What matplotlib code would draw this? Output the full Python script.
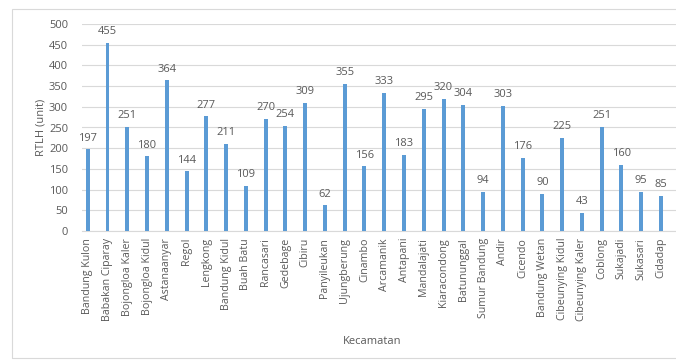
import matplotlib
matplotlib.use("Agg")
import matplotlib.pyplot as plt
from matplotlib.patches import Rectangle

# data RTLH per kecamatan
kecamatan = ["Bandung Kulon", "Babakan Ciparay", "Bojongloa Kaler", "Bojongloa Kidul",
             "Astanaanyar", "Regol", "Lengkong", "Bandung Kidul", "Buah Batu", "Rancasari",
             "Gedebage", "Cibiru", "Panyileukan", "Ujungberung", "Cinambo", "Arcamanik",
             "Antapani", "Mandalajati", "Kiaracondong", "Batununggal", "Sumur Bandung",
             "Andir", "Cicendo", "Bandung Wetan", "Cibeunying Kidul", "Cibeunying Kaler",
             "Coblong", "Sukajadi", "Sukasari", "Cidadap"]
rtlh = [197, 455, 251, 180, 364, 144, 277, 211, 109, 270,
        254, 309, 62, 355, 156, 333, 183, 295, 320, 304,
        94, 303, 176, 90, 225, 43, 251, 160, 95, 85]
yticks = [0, 50, 100, 150, 200, 250, 300, 350, 400, 450, 500]

plt.rcParams['font.family'] = ['Open Sans', 'DejaVu Sans']
text_col = '#595959'
bar_col = '#5B9BD5'

fig = plt.figure(figsize=(6.76, 3.61), dpi=100)
# chart frame
fig.patches.append(Rectangle((12 / 676, 3 / 361), 1.0, 349 / 361, transform=fig.transFigure,
                             fill=False, edgecolor='#D9D9D9', linewidth=0.8))

ax = fig.add_axes((82 / 676, 1 - 231 / 361, 1 - 82 / 676, (231 - 24) / 361))
x = list(range(len(kecamatan)))
bars = ax.bar(x, rtlh, width=0.2, color=bar_col, zorder=3)

for xi, v in zip(x, rtlh):
    ax.text(xi, v + 14, str(v), ha='center', va='bottom', fontsize=8, color=text_col)

ax.set_ylim(0, 500)
ax.set_yticks(yticks)
ax.set_xlim(-0.29, 29.76)
ax.set_xticks(x)
ax.set_xticklabels(kecamatan, rotation=90, fontsize=7.7, color=text_col)
ax.tick_params(axis='y', labelsize=8, colors=text_col, length=0, pad=10)
ax.tick_params(axis='x', length=0, pad=5)
ax.grid(axis='y', color='#D9D9D9', linewidth=0.8, zorder=0)
for s in ['top', 'right', 'left']:
    ax.spines[s].set_visible(False)
ax.spines['bottom'].set_color('#D9D9D9')

ax.set_ylabel('RTLH (unit)', fontsize=8, color=text_col, labelpad=2)
fig.text(372 / 676, 1 - 341 / 361, 'Kecamatan', ha='center', va='center', fontsize=8, color=text_col)

fig.savefig('out.png', dpi=100)
